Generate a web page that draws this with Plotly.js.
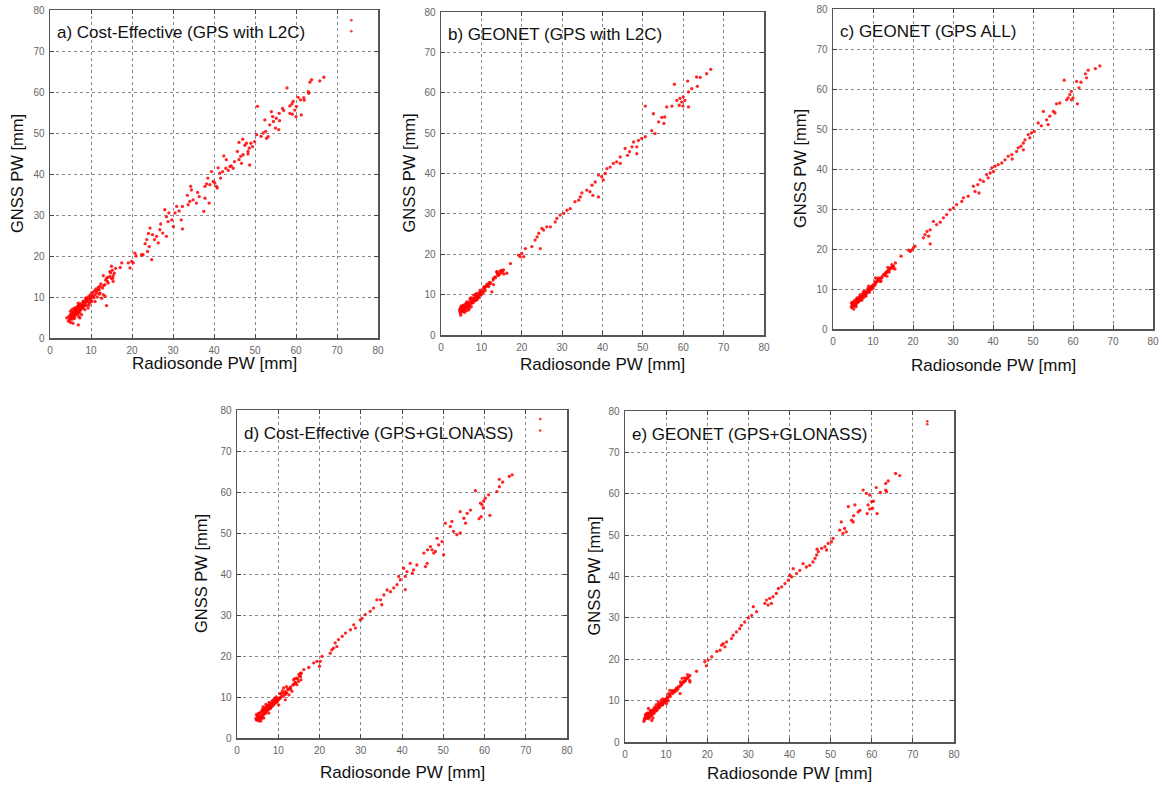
<!DOCTYPE html>
<html><head><meta charset="utf-8">
<script src="https://cdn.plot.ly/plotly-3.0.1.min.js"></script>
<style>html,body{margin:0;padding:0;background:#fff}#chart{width:1162px;height:785px}</style>
</head><body><div id="chart"></div>
<script>
// ---------------- DATA ----------------
const panelTitles = [
  "a) Cost-Effective (GPS with L2C)",
  "b) GEONET (GPS with L2C)",
  "c) GEONET (GPS ALL)",
  "d) Cost-Effective (GPS+GLONASS)",
  "e) GEONET (GPS+GLONASS)"
];
const xAxisTitle = "Radiosonde PW [mm]";
const yAxisTitle = "GNSS PW [mm]";
const tickValues = [0,10,20,30,40,50,60,70,80];

// a) Cost-Effective (GPS with L2C)
const aX = [66.8,65.8,63.8,63.4,63.1,63.0,61.1,61.9,60.5,61.3,
  57.8,59.3,58.5,59.0,59.7,60.1,59.1,58.5,60.0,56.7,
  55.9,55.2,54.3,54.5,55.0,55.8,53.6,52.6,52.0,52.4,
  50.6,52.8,53.2,50.4,49.9,49.4,48.6,47.9,48.3,47.0,
  46.1,45.7,47.1,46.5,46.1,46.7,48.7,48.3,44.7,43.9,
  43.5,42.4,42.1,42.9,41.4,41.6,40.6,39.8,39.4,40.2,
  40.8,39.0,38.2,37.8,37.8,38.8,37.5,35.7,36.4,34.9,
  34.5,34.3,34.1,33.7,32.3,30.9,30.5,30.1,29.7,28.8,
  28.4,28.0,28.4,27.5,26.8,26.4,26.0,25.0,24.4,24.2,
  23.8,23.6,23.2,22.7,22.3,24.8,32.3,32.0,20.7,19.9,
  20.3,19.5,19.1,17.5,17.1,
  44.2,45.0,41.0,38.5,36.0,33.5,31.5,29.0,27.0,25.5,
  24.0,21.0,43.0,49.0,51.5,57.0,56.0,62.0,54.0,47.5,
  15.4,15.7,15.0,14.6,14.6,15.4,14.2,13.8,13.0,13.4,
  13.8,12.2,11.8,12.2,11.4,11.0,10.6,10.2,9.7,9.3,
  9.6,8.8,8.9,8.1,8.0,7.3,7.1,6.9,6.5,6.3,
  6.1,5.7,5.5,5.3,4.9,4.9,4.5,4.1,5.0,6.9,
  7.3,7.7,8.5,9.3,10.2,11.0,12.6,13.0,13.4,
  5.2,5.8,6.2,6.6,7.0,7.5,7.8,8.3,8.6,9.0,
  9.5,10.0,10.5,11.5,12.0,5.5,6.0,6.4,6.8,7.2,
  7.6,8.2,5.0,4.6,5.6,6.2,7.0,8.8,9.8,11.2,
  12.8,14.0,15.0,15.2,16.0];
const aY = [63.6,62.7,63.0,62.4,59.7,60.1,58.1,58.6,58.7,54.4,
  61.0,57.7,56.6,57.1,55.6,56.5,54.6,54.8,54.0,56.0,
  54.8,53.6,54.0,52.8,51.2,50.8,52.0,50.4,50.0,53.2,
  56.5,48.7,49.1,49.6,47.9,46.7,46.3,47.5,45.5,48.5,
  47.7,45.5,44.7,44.3,43.5,42.6,42.2,44.9,41.4,41.8,
  40.9,44.4,40.6,41.4,40.2,39.0,37.0,38.2,40.6,37.8,
  36.6,37.4,37.6,37.0,34.1,32.9,30.9,32.9,34.5,33.7,
  36.1,37.0,33.3,32.5,32.1,32.1,30.5,27.2,28.8,28.4,
  29.6,31.3,24.8,25.6,26.4,23.2,24.8,25.2,26.8,22.3,
  21.1,24.0,23.0,20.3,20.3,19.1,26.6,28.8,20.7,18.7,
  18.3,17.1,18.3,18.3,17.2,
  42.0,43.0,41.5,39.0,35.5,34.8,31.0,30.5,27.8,24.0,
  25.5,20.0,43.5,47.5,49.2,55.5,53.0,58.0,55.2,47.0,
  15.2,15.8,17.5,16.2,15.0,13.8,13.4,14.6,15.2,13.0,
  7.9,12.6,11.8,11.0,11.1,10.6,10.2,11.0,9.7,9.3,
  8.5,8.9,7.9,8.4,7.3,7.7,6.9,8.5,7.1,6.1,
  6.5,5.4,4.6,6.1,5.7,4.5,4.1,4.9,3.8,3.2,
  4.9,5.7,6.9,7.3,8.9,8.9,9.7,10.6,10.2,
  5.0,6.0,5.5,6.4,7.5,7.0,8.0,7.8,8.6,9.5,
  8.0,9.5,11.2,10.0,11.8,5.8,4.8,6.8,5.8,6.2,
  7.8,9.0,6.5,5.2,3.6,7.4,8.0,9.8,10.5,12.0,
  12.2,13.8,14.5,16.5,17.0];
const aLowX = [4.8,5.1,5.4,5.6,5.9,6.1,6.3,6.6,6.8,7.1,
  7.3,7.6,7.9,8.1,8.4,8.7,9.1,9.4,9.8,10.3,
  10.7,11.3,11.8,12.4,13.1,13.6,14.1,14.8,15.3,5.3,
  6.0,6.7,7.4,8.0,8.9,9.9,10.9,12.0,5.8,7.0];
const aLowY = [4.6,5.4,4.9,6.4,5.1,6.8,5.9,7.2,6.3,7.9,
  6.6,8.4,7.4,8.9,8.1,9.6,8.8,10.1,9.0,10.3,
  9.8,11.6,12.4,13.2,12.8,14.1,14.8,15.9,14.6,6.9,
  5.6,7.7,7.0,7.6,9.4,9.9,11.5,10.7,7.2,5.2];

// b) GEONET (GPS with L2C)
const bX = [66.8,65.8,64.2,63.3,63.5,62.1,61.1,61.3,61.3,57.8,
  60.0,59.2,59.6,59.0,60.4,59.9,58.4,57.2,55.9,55.4,
  54.7,55.2,53.9,52.6,52.2,53.0,50.6,50.6,49.7,48.9,
  48.5,47.7,47.3,46.7,46.2,48.5,45.6,44.4,43.5,44.4,
  42.7,41.9,41.1,40.7,39.8,39.0,40.2,38.2,37.4,36.9,
  37.6,36.1,34.9,34.1,34.5,39.0,33.2,32.0,31.2,30.4,
  29.5,28.7,28.3,27.1,26.2,25.4,25.0,24.2,23.8,23.3,
  24.6,22.5,20.9,20.0,19.6,19.2,20.5,17.2,
  15.5,15.1,14.7,14.3,13.9,13.4,13.0,12.2,11.8,11.4,
  11.0,10.6,10.1,9.7,9.3,8.9,8.5,8.1,7.7,7.3,
  6.8,6.4,6.0,5.6,5.2,4.8,4.8,4.9,5.6,6.4,
  7.3,8.1,8.9,9.7,12.6,16.3,
  5.5,6.0,6.5,7.0,7.5,8.0,8.5,9.0,9.5,10.0,
  10.5,11.0,12.0,13.0,14.0,15.0,5.0,5.8,6.3,6.8,
  7.2,8.5,9.5,4.6,5.3,6.6];
const bY = [65.8,64.7,63.8,63.9,61.6,61.0,62.9,60.2,56.5,62.1,
  59.0,58.6,57.7,56.9,58.1,56.7,58.1,56.7,56.5,54.0,
  53.9,52.4,52.8,54.8,50.6,49.9,56.7,49.1,48.7,48.2,
  46.6,47.8,46.6,45.4,44.5,44.9,46.2,44.1,42.9,42.5,
  42.5,41.6,41.2,40.0,39.2,39.6,38.4,37.9,37.1,35.5,
  34.6,35.9,35.2,33.4,34.2,34.2,33.0,31.3,30.9,30.1,
  29.7,28.9,28.0,26.8,26.8,26.0,26.4,25.2,24.3,23.5,
  21.4,21.9,21.4,20.2,19.4,19.8,19.4,17.7,
  16.1,15.4,15.9,14.8,15.7,14.4,14.0,12.8,12.0,12.6,
  12.0,11.5,10.7,10.3,9.9,9.5,9.1,8.7,8.2,7.8,
  7.4,7.0,6.6,6.2,5.8,5.4,6.6,4.9,7.4,8.2,
  9.1,9.9,8.7,11.1,10.7,15.3,
  7.0,7.5,8.0,6.5,7.0,8.0,8.5,9.0,10.5,10.0,
  10.5,11.0,13.0,12.5,15.2,16.0,7.2,5.6,6.0,6.2,
  8.8,10.0,9.3,6.2,6.5,7.2];
const bLowX = [4.7,5.0,5.3,5.6,5.9,6.2,6.5,6.8,7.1,7.4,
  7.7,8.0,8.3,8.6,8.9,9.2,9.5,9.9,10.3,10.8,
  11.2,11.7,12.3,12.9,13.5,14.1,14.6,15.2,15.6,5.1,
  5.7,6.3,6.9,7.6,8.2,8.8,9.7,10.6,11.9,13.8];
const bLowY = [5.8,6.9,6.1,7.3,6.6,7.8,6.8,8.1,7.2,8.4,
  7.9,8.8,8.6,9.4,9.7,9.3,10.2,10.6,10.9,11.6,
  12.1,12.4,12.9,13.6,14.2,14.8,15.3,15.8,15.1,6.4,
  6.0,7.1,7.6,9.2,9.1,10.3,10.0,11.9,12.6,15.6];

// c) GEONET (GPS ALL)
const cX = [66.7,65.6,63.8,63.1,63.4,62.0,60.9,61.5,61.1,57.8,
  59.6,59.2,58.8,60.0,59.6,58.4,56.7,55.9,55.1,55.5,
  54.2,53.4,53.8,52.6,52.1,51.3,50.3,49.6,48.8,49.2,
  48.0,47.6,47.0,46.3,45.9,47.6,44.7,43.8,44.8,43.0,
  42.2,41.3,40.5,39.7,40.1,39.3,38.4,38.8,37.6,36.8,
  36.2,35.5,36.5,35.1,33.8,32.6,32.2,30.9,30.1,29.3,
  28.4,27.6,26.8,25.9,25.1,24.3,23.5,23.0,23.9,22.6,
  24.3,20.5,19.7,19.3,18.9,20.1,17.0,
  15.6,15.1,14.7,14.3,13.9,13.5,13.1,12.6,12.2,11.4,
  11.0,10.6,10.1,9.7,9.3,8.9,8.5,8.1,7.7,7.2,
  6.8,6.4,6.0,5.6,5.2,4.7,4.6,6.0,6.8,7.7,
  8.9,10.6,11.8,13.5,5.2,
  5.0,5.5,6.0,6.5,7.0,7.5,8.0,8.5,9.0,9.5,
  10.0,10.5,11.0,12.0,13.0,14.0,15.0,5.5,6.2,7.2,
  8.2,4.8,5.8,6.6,7.8];
const cY = [65.8,65.1,64.7,63.8,62.8,61.7,61.9,60.3,56.3,62.2,
  59.4,58.6,57.8,57.8,57.3,57.3,56.5,56.3,54.4,54.0,
  53.2,52.3,51.1,54.4,50.8,51.5,49.4,49.0,48.6,47.8,
  47.3,46.5,45.7,45.3,44.4,44.8,43.6,43.2,42.5,42.3,
  41.5,41.1,40.7,40.3,39.4,39.0,38.6,37.8,36.9,37.3,
  36.1,34.4,34.0,35.7,33.2,32.8,31.9,31.1,30.3,29.8,
  28.6,27.8,26.7,26.1,26.9,24.8,24.4,23.6,23.2,22.8,
  21.3,20.7,19.8,19.4,19.7,20.3,18.2,
  16.5,15.7,16.1,15.3,14.8,14.4,14.0,13.6,13.0,12.8,
  11.9,11.5,11.1,10.7,10.0,9.4,9.0,8.6,8.2,7.8,
  7.3,6.9,6.5,6.1,5.7,5.3,6.5,7.8,8.6,9.4,
  10.7,12.8,11.9,13.2,5.0,
  6.5,7.0,7.2,7.5,8.0,8.5,9.0,9.5,10.0,10.5,
  10.2,11.0,12.5,12.0,13.5,14.2,15.2,6.2,6.8,7.2,
  8.2,6.0,5.6,8.0,9.2];
const cLowX = [4.6,4.9,5.2,5.5,5.8,6.1,6.4,6.7,7.0,7.3,
  7.6,7.9,8.2,8.5,8.8,9.1,9.4,9.8,10.2,10.7,
  11.1,11.6,12.2,12.8,13.4,14.0,14.5,15.0,15.5,5.0,
  5.6,6.2,6.8,7.5,8.1,8.7,9.6,10.5,11.8,13.7];
const cLowY = [5.6,6.7,6.0,7.2,6.4,7.6,6.8,7.9,7.3,8.3,
  7.8,8.7,8.5,9.3,9.6,9.2,10.1,10.5,10.8,11.5,
  12.0,12.3,12.8,13.5,14.1,14.7,15.2,15.7,15.0,6.2,
  5.9,7.0,7.5,9.0,8.9,10.1,9.9,11.8,12.5,15.4];

// d) Cost-Effective (GPS+GLONASS)
const dX = [66.7,66.0,64.4,63.6,63.0,63.6,61.0,61.3,57.8,59.8,
  59.0,59.4,60.2,59.2,58.7,59.7,56.6,55.8,55.0,55.4,
  54.1,54.1,53.3,52.5,52.1,51.7,50.5,50.1,49.7,48.9,
  48.5,48.1,47.3,46.9,46.2,46.1,45.7,47.7,45.3,43.6,
  42.8,42.0,42.5,41.2,40.8,40.4,39.6,39.2,38.8,40.8,
  38.0,37.2,36.4,35.6,34.8,35.1,33.9,33.1,32.3,31.1,
  30.3,29.9,28.3,28.7,27.5,26.3,25.5,24.6,23.8,23.4,
  24.2,23.0,22.6,20.6,20.2,19.4,18.6,17.4,16.2,20.0,
  15.4,15.4,14.9,14.5,14.1,13.7,12.9,12.5,12.1,11.3,
  11.7,11.2,10.5,10.1,9.7,9.3,8.9,8.5,8.1,7.7,
  7.3,6.9,6.5,6.1,5.7,5.3,4.8,4.7,5.7,6.5,
  7.7,9.3,10.1,11.7,13.3,13.7,
  5.0,5.5,6.0,6.5,7.0,7.5,8.0,8.5,9.0,6.2,
  6.8,7.2,7.8,8.3,9.5,10.5,11.0,12.0,13.0,14.0,
  15.0,5.2,4.6,6.3,7.0,8.8,9.8,12.6,15.5,14.5];
const dY = [64.2,63.8,62.4,63.1,60.1,61.3,59.3,54.3,60.3,57.8,
  57.3,56.9,58.5,54.0,53.5,56.1,55.6,54.8,53.6,52.4,
  55.2,50.0,49.6,50.4,52.8,51.6,52.4,44.7,47.9,47.1,
  48.7,45.5,45.9,46.7,45.9,42.6,41.8,45.1,45.1,42.2,
  41.0,42.6,40.2,40.6,39.4,41.4,38.6,39.4,37.4,36.2,
  36.6,35.7,36.1,34.9,33.7,32.5,33.7,31.7,30.9,30.1,
  29.2,28.8,27.6,26.8,26.4,25.6,24.8,24.0,23.2,21.9,
  22.3,21.5,20.7,19.9,18.7,18.7,18.3,17.2,16.7,17.5,
  15.8,15.0,13.8,14.6,13.4,13.0,12.2,11.8,11.0,12.2,
  10.6,10.2,9.7,9.3,8.9,8.5,8.1,7.7,7.3,7.7,
  6.9,6.5,6.1,5.7,5.3,4.9,4.5,5.7,4.1,4.9,
  6.1,9.7,8.1,9.3,11.4,14.2,
  5.5,6.0,6.5,7.0,7.5,8.0,8.5,9.0,9.5,5.0,
  6.0,6.6,7.2,8.0,10.0,10.8,11.5,12.5,12.0,14.5,
  15.5,4.2,4.8,7.6,8.2,8.6,9.0,10.5,14.2,13.0];
const dLowX = [4.7,5.0,5.3,5.6,5.9,6.2,6.4,6.7,7.0,7.3,
  7.6,7.9,8.2,8.5,8.8,9.1,9.5,9.9,10.3,10.8,
  11.2,11.7,12.3,12.9,13.5,14.1,14.7,15.2,15.6,5.2,
  5.9,6.6,7.3,8.0,8.7,9.6,10.6,11.9,6.1,7.8];
const dLowY = [4.4,5.3,4.7,6.2,5.0,6.6,5.7,7.0,6.1,7.6,
  6.9,8.0,7.4,8.5,8.1,9.2,8.7,9.6,9.8,10.2,
  10.9,11.3,11.9,12.4,12.9,13.6,14.4,15.1,15.8,6.0,
  4.6,7.3,7.8,7.2,9.1,9.3,10.9,11.0,6.9,8.7];

// e) GEONET (GPS+GLONASS)
const eX = [65.8,66.8,64.0,63.4,63.6,63.4,61.1,62.1,61.3,57.9,
  58.7,59.5,60.0,60.4,59.1,59.5,60.2,58.9,57.1,56.7,
  55.9,55.5,55.1,55.6,54.3,53.8,53.4,52.6,53.0,52.2,
  50.6,50.2,49.4,48.6,49.0,47.8,47.0,46.6,46.2,45.7,
  46.7,44.9,44.1,43.3,42.5,41.7,40.9,40.5,39.7,40.1,
  38.9,38.1,37.3,36.8,36.0,35.2,34.4,35.6,34.8,34.0,
  31.2,32.0,30.8,30.0,29.1,28.3,27.9,27.1,26.3,25.9,
  24.7,23.9,23.5,24.3,23.1,22.3,21.1,20.2,19.4,19.8,
  17.4,
  15.8,15.4,15.0,14.6,14.2,13.8,13.4,12.9,12.6,12.1,
  11.6,10.9,10.8,10.3,9.7,9.3,8.9,8.5,8.1,7.5,
  7.0,6.5,6.1,5.7,5.3,4.9,4.6,6.5,8.1,10.1,
  13.4,15.8,5.7,
  5.0,5.5,6.0,6.5,7.0,7.5,8.0,8.5,9.0,9.5,
  10.0,10.5,11.0,11.5,12.5,13.5,14.5,15.2,5.2,6.2,
  7.2,8.2,9.2,4.8,6.8];
const eY = [64.9,64.4,63.1,62.5,60.5,60.9,61.5,60.3,55.2,60.9,
  60.1,59.7,58.1,58.2,57.3,56.3,56.5,55.2,56.0,55.6,
  57.3,53.2,53.6,54.7,56.9,50.8,51.6,53.2,50.4,51.2,
  49.2,48.4,48.0,47.2,46.4,46.8,46.0,45.2,44.4,43.5,
  46.6,42.7,42.3,43.1,41.5,40.7,41.9,39.9,39.1,40.3,
  38.3,37.5,37.1,35.9,35.1,34.7,34.3,33.5,33.1,33.5,
  32.7,31.5,30.6,30.0,29.0,28.2,27.4,26.6,25.8,25.0,
  24.2,23.8,23.4,23.0,22.2,21.9,20.6,19.8,19.4,18.4,
  17.1,
  16.1,15.7,15.3,14.7,14.4,13.9,13.5,12.9,12.5,12.1,
  11.7,12.5,11.3,10.9,10.3,9.8,9.3,8.9,8.5,8.1,
  7.7,7.3,6.9,6.5,6.0,5.6,5.0,5.2,9.7,9.3,
  11.7,14.5,8.1,
  6.5,7.0,6.0,6.5,7.0,7.5,8.0,8.5,9.0,9.5,
  10.0,10.0,11.0,12.5,13.0,14.5,15.5,16.3,6.8,7.6,
  8.4,9.2,10.4,5.8,5.8];
const eLowX = [4.7,5.0,5.3,5.6,5.9,6.2,6.5,6.8,7.1,7.4,
  7.7,8.0,8.3,8.6,8.9,9.2,9.6,10.0,10.4,10.9,
  11.3,11.8,12.4,13.0,13.6,14.2,14.7,15.3,15.7,5.1,
  5.7,6.3,6.9,7.6,8.2,8.8,9.7,10.6,12.0,13.9];
const eLowY = [5.4,6.6,5.8,7.0,6.2,7.5,6.5,7.8,7.0,8.2,
  7.6,8.6,8.4,9.2,9.5,9.0,10.0,10.4,10.7,11.4,
  11.9,12.2,12.7,13.4,14.0,14.6,15.1,15.6,14.9,6.1,
  5.6,6.8,7.3,9.0,8.8,10.1,9.8,11.7,12.4,15.4];

// key sample marks (top-right of panels a, d, e)
const keyAX = [73.5,73.5], keyAY = [77.5,74.8];
const keyDX = [73.5,73.5], keyDY = [77.8,75.0];
const keyEX = [73.5,73.5], keyEY = [77.5,76.8];

// ---------------- LAYOUT (pixel boxes) ----------------
const W = 1162, H = 785;
const boxes = [
  {l:50,  t:10,  r:378,  b:338, ytx:17,  xty:363},
  {l:441, t:12,  r:764,  b:335, ytx:408, xty:364},
  {l:833, t:9,   r:1153, b:329, ytx:800, xty:365},
  {l:237, t:410, r:567,  b:738, ytx:201, xty:772},
  {l:625, t:411, r:954,  b:742, ytx:593, xty:773}
];
const series = [
  [aX.concat(aLowX), aY.concat(aLowY), keyAX, keyAY],
  [bX.concat(bLowX), bY.concat(bLowY), null, null],
  [cX.concat(cLowX), cY.concat(cLowY), null, null],
  [dX.concat(dLowX), dY.concat(dLowY), keyDX, keyDY],
  [eX.concat(eLowX), eY.concat(eLowY), keyEX, keyEY]
];

const FONT = "Liberation Sans, Arial, sans-serif";
const px = v => v / W, py = v => 1 - v / H;

const traces = [];
const layout = {
  width: W, height: H,
  margin: {l:0, r:0, t:0, b:0},
  paper_bgcolor: "#fff", plot_bgcolor: "#fff",
  showlegend: false,
  font: {family: FONT},
  annotations: []
};

boxes.forEach((bx, i) => {
  const n = i === 0 ? "" : String(i + 1);
  const [xs, ys, kx, ky] = series[i];
  traces.push({type: "scatter", mode: "markers", x: xs, y: ys, xaxis: "x" + n, yaxis: "y" + n,
    marker: {color: "rgba(255,0,0,0.85)", size: 3.3, line: {width: 0}}, hoverinfo: "x+y"});
  if (kx) traces.push({type: "scatter", mode: "markers", x: kx, y: ky, xaxis: "x" + n, yaxis: "y" + n,
    marker: {color: "rgba(255,0,0,0.8)", size: 2.6, line: {width: 0}}, hoverinfo: "skip"});
  const axCommon = {
    range: [0, 80], tickvals: tickValues, autorange: false, fixedrange: true,
    showgrid: true, gridcolor: "#8a8a8a", griddash: "dot", gridwidth: 1,
    zeroline: false, showline: true, linecolor: "#555", linewidth: 1.5, mirror: "ticks",
    ticks: "inside", ticklen: 4, tickcolor: "#444", tickwidth: 1,
    tickfont: {family: FONT, size: 10, color: "#666"}
  };
  layout["xaxis" + n] = Object.assign({}, axCommon, {
    domain: [px(bx.l), px(bx.r)], anchor: "y" + n, ticklabelstandoff: 2
  });
  layout["yaxis" + n] = Object.assign({}, axCommon, {
    domain: [py(bx.b), py(bx.t)], anchor: "x" + n, ticklabelstandoff: 2
  });
  layout.annotations.push({
    xref: "paper", yref: "paper", x: px(bx.l + 5), y: py(bx.t + 23),
    xanchor: "left", yanchor: "middle", showarrow: false,
    text: panelTitles[i], font: {family: FONT, size: 17, color: "#111"}
  });
  layout.annotations.push({
    xref: "paper", yref: "paper", x: px((bx.l + bx.r) / 2), y: py(bx.xty),
    xanchor: "center", yanchor: "middle", showarrow: false,
    text: xAxisTitle, font: {family: FONT, size: 17, color: "#111"}
  });
  layout.annotations.push({
    xref: "paper", yref: "paper", x: px(bx.ytx), y: py((bx.t + bx.b) / 2),
    xanchor: "center", yanchor: "middle", showarrow: false, textangle: -90,
    text: yAxisTitle, font: {family: FONT, size: 16.5, color: "#111"}
  });
});

Plotly.newPlot("chart", traces, layout, {displayModeBar: false, staticPlot: true});
</script>
</body></html>
